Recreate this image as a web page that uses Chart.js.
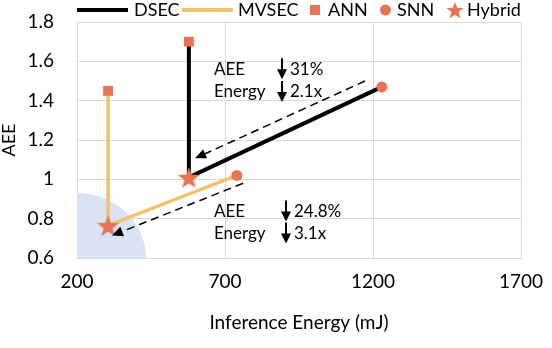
<!DOCTYPE html>
<html>
<head>
<meta charset="utf-8">
<script src="https://cdn.jsdelivr.net/npm/chart.js@4"></script>
<style>
    html, body { margin: 0; padding: 0; background: #fff; }
    #wrap { width: 552px; height: 348px; }
</style>
</head>
<body>
<div id="wrap"><canvas id="chart" width="552" height="348"></canvas></div>
<script>
// Data. Series order: ANN, Hybrid, SNN
const xTicks = [200, 700, 1200, 1700];
const yTicks = [0.6, 0.8, 1, 1.2, 1.4, 1.6, 1.8];
const dsecEnergy = [578, 578, 1230];
const dsecAEE = [1.70, 1.01, 1.47];
const mvsecEnergy = [305, 305, 740];
const mvsecAEE = [1.45, 0.765, 1.02];

// Dashed improvement arrows (energy, AEE)
const arrowFrom = [[1173, 1.50], [761, 0.98]];
const arrowTo = [[599, 1.107], [318, 0.714]];

// Low energy / low error region (quarter ellipse from the origin)
const shadeEnergy = [200, 433];
const shadeAEE = [0.6, 0.93];

// Annotation text
const noteLabels = ['AEE', 'Energy', 'AEE', 'Energy'];
const noteValues = ['31%', '2.1x', '24.8%', '3.1x'];
const noteAEE = [1.56, 1.444, 0.836, 0.724];

const CORAL = '#E97455';
const GOLD = '#EEC36B';
const FONT = 'Lato, "Open Sans", sans-serif';

function makeStar(r, color) {
    const c = document.createElement('canvas');
    c.width = c.height = Math.ceil(2 * r + 2);
    const g = c.getContext('2d');
    const cx = c.width / 2, cy = c.height / 2 + r * 0.1;
    g.beginPath();
    for (let i = 0; i < 10; i++) {
        const rad = i % 2 ? r * 0.42 : r;
        const a = -Math.PI / 2 + i * Math.PI / 5;
        g.lineTo(cx + rad * Math.cos(a), cy + rad * Math.sin(a));
    }
    g.closePath();
    g.fillStyle = color;
    g.fill();
    return c;
}

const bigStar = makeStar(11.5, CORAL);
const smallStar = makeStar(9, CORAL);

const pts = (xs, ys, idx) => idx.map(i => ({ x: xs[i], y: ys[i] }));

// Shaded region + arrows + notes + legend
const extras = {
    id: 'extras',
    beforeDatasetsDraw(chart) {
        const { ctx, scales: { x, y } } = chart;
        const cx = x.getPixelForValue(shadeEnergy[0]);
        const cy = y.getPixelForValue(shadeAEE[0]);
        const rx = x.getPixelForValue(shadeEnergy[1]) - cx;
        const ry = cy - y.getPixelForValue(shadeAEE[1]);
        ctx.save();
        ctx.beginPath();
        ctx.moveTo(cx, cy);
        ctx.ellipse(cx, cy, rx, ry, 0, -Math.PI / 2, 0);
        ctx.closePath();
        ctx.fillStyle = '#DAE3F3';
        ctx.fill();
        ctx.restore();
    },
    afterDatasetsDraw(chart) {
        const { ctx, scales: { x, y } } = chart;
        ctx.save();

        // dashed arrows
        arrowFrom.forEach((f, i) => {
            const x0 = x.getPixelForValue(f[0]), y0 = y.getPixelForValue(f[1]);
            const x1 = x.getPixelForValue(arrowTo[i][0]), y1 = y.getPixelForValue(arrowTo[i][1]);
            const ang = Math.atan2(y1 - y0, x1 - x0);
            const head = 11;
            ctx.strokeStyle = '#000';
            ctx.lineWidth = 1.5;
            ctx.setLineDash([8, 5]);
            ctx.beginPath();
            ctx.moveTo(x0, y0);
            ctx.lineTo(x1 - Math.cos(ang) * head, y1 - Math.sin(ang) * head);
            ctx.stroke();
            ctx.setLineDash([]);
            ctx.beginPath();
            ctx.moveTo(x1, y1);
            ctx.lineTo(x1 - head * Math.cos(ang) + 5 * Math.sin(ang), y1 - head * Math.sin(ang) - 5 * Math.cos(ang));
            ctx.lineTo(x1 - head * Math.cos(ang) - 5 * Math.sin(ang), y1 - head * Math.sin(ang) + 5 * Math.cos(ang));
            ctx.closePath();
            ctx.fillStyle = '#000';
            ctx.fill();
        });

        // notes
        ctx.font = '17px ' + FONT;
        ctx.fillStyle = '#000';
        ctx.textBaseline = 'middle';
        ctx.textAlign = 'left';
        noteLabels.forEach((lab, i) => {
            const py = y.getPixelForValue(noteAEE[i]);
            const lx = 214;
            const ax = i < 2 ? 282 : 286;
            ctx.fillText(lab, lx, py);
            ctx.fillText(noteValues[i], ax + 8, py);
            ctx.lineWidth = 2;
            ctx.beginPath();
            ctx.moveTo(ax, py - 11);
            ctx.lineTo(ax, py + 2);
            ctx.stroke();
            ctx.beginPath();
            ctx.moveTo(ax - 5, py);
            ctx.lineTo(ax + 5, py);
            ctx.lineTo(ax, py + 10);
            ctx.closePath();
            ctx.fill();
        });
        ctx.restore();
    },
    afterDraw(chart) {
        const ctx = chart.ctx;
        const ly = 10;
        ctx.save();
        ctx.font = '18px ' + FONT;
        ctx.fillStyle = '#000';
        ctx.textBaseline = 'middle';
        ctx.lineWidth = 4;
        ctx.strokeStyle = '#000';
        ctx.beginPath(); ctx.moveTo(77, ly); ctx.lineTo(128, ly); ctx.stroke();
        ctx.fillText('DSEC', 134, ly);
        ctx.strokeStyle = GOLD;
        ctx.beginPath(); ctx.moveTo(182, ly); ctx.lineTo(233, ly); ctx.stroke();
        ctx.fillText('MVSEC', 238, ly);
        ctx.fillStyle = CORAL;
        ctx.fillRect(310, ly - 5, 10, 10);
        ctx.beginPath(); ctx.arc(385.5, ly, 5.5, 0, Math.PI * 2); ctx.fill();
        ctx.drawImage(smallStar, 455 - smallStar.width / 2, ly - smallStar.height / 2);
        ctx.fillStyle = '#000';
        ctx.fillText('ANN', 328, ly);
        ctx.fillText('SNN', 397, ly);
        ctx.fillText('Hybrid', 467, ly);
        ctx.restore();
    }
};

const tickFont = { family: FONT, size: 19 };

new Chart(document.getElementById('chart'), {
    type: 'scatter',
    data: {
        datasets: [
            {
                label: 'Hybrid',
                data: pts(dsecEnergy, dsecAEE, [1]).concat(pts(mvsecEnergy, mvsecAEE, [1])),
                pointStyle: bigStar,
                pointRadius: 11
            },
            {
                label: 'SNN',
                data: pts(dsecEnergy, dsecAEE, [2]).concat(pts(mvsecEnergy, mvsecAEE, [2])),
                pointStyle: 'circle',
                pointRadius: 5.5,
                backgroundColor: CORAL,
                borderWidth: 0
            },
            {
                label: 'ANN',
                data: pts(dsecEnergy, dsecAEE, [0]).concat(pts(mvsecEnergy, mvsecAEE, [0])),
                pointStyle: 'rect',
                pointRadius: 7,
                backgroundColor: CORAL,
                borderWidth: 0
            },
            {
                label: 'DSEC',
                data: pts(dsecEnergy, dsecAEE, [0, 1, 2]),
                showLine: true,
                borderColor: '#000',
                borderWidth: 4,
                pointRadius: 0
            },
            {
                label: 'MVSEC',
                data: pts(mvsecEnergy, mvsecAEE, [0, 1, 2]),
                showLine: true,
                borderColor: GOLD,
                borderWidth: 3.5,
                pointRadius: 0
            }
        ]
    },
    options: {
        responsive: false,
        devicePixelRatio: 1,
        animation: false,
        layout: { padding: { top: 22, right: 31, left: 0, bottom: 0 } },
        plugins: {
            legend: { display: false },
            tooltip: { enabled: false }
        },
        scales: {
            x: {
                type: 'linear',
                min: 200,
                max: 1700,
                afterBuildTicks: s => { s.ticks = xTicks.map(v => ({ value: v })); },
                afterFit: s => { s.height = 90; s.paddingLeft = 0; s.paddingRight = 0; },
                grid: { color: '#d9d9d9', drawTicks: false },
                border: { color: '#d9d9d9' },
                ticks: { padding: 12, color: '#000', font: tickFont, callback: v => String(v) },
                title: {
                    display: true,
                    text: 'Inference Energy (mJ)',
                    color: '#000',
                    font: tickFont,
                    padding: { top: 0, bottom: 14 }
                }
            },
            y: {
                min: 0.6,
                max: 1.8,
                afterBuildTicks: s => { s.ticks = yTicks.map(v => ({ value: v })); },
                afterFit: s => { s.width = 77; s.paddingTop = 0; s.paddingBottom = 0; },
                grid: { color: '#d9d9d9', drawTicks: false },
                border: { color: '#d9d9d9' },
                ticks: {
                    padding: 23,
                    color: '#000',
                    font: tickFont,
                    callback: v => String(Math.round(v * 10) / 10)
                },
                title: {
                    display: true,
                    text: 'AEE',
                    color: '#000',
                    font: { family: FONT, size: 18, lineHeight: 1 },
                    padding: 0
                }
            }
        }
    },
    plugins: [extras]
});
</script>
</body>
</html>
